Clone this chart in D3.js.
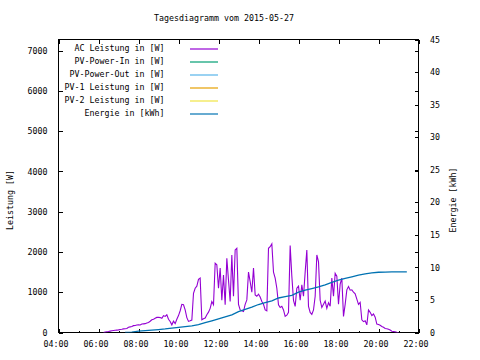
<!DOCTYPE html>
<html>
<head>
<meta charset="utf-8">
<script src="https://cdn.jsdelivr.net/npm/d3@7"></script>
<style>
  html, body { margin: 0; padding: 0; background: #fff; }
  svg text { font-family: "DejaVu Sans Mono", "Liberation Mono", monospace; font-size: 8.3px; fill: #000; }
</style>
</head>
<body>
<svg id="chart" width="480" height="360"></svg>
<script>
// ---------- data ----------
const title = "Tagesdiagramm vom 2015-05-27";
const xTickLabels = ["04:00","06:00","08:00","10:00","12:00","14:00","16:00","18:00","20:00","22:00"];
const yTicks = [0,1000,2000,3000,4000,5000,6000,7000];
const y2Ticks = [0,5,10,15,20,25,30,35,40,45];

const legendLabels = ["AC Leistung in [W]","PV-Power-In in [W]","PV-Power-Out in [W]","PV-1 Leistung in [W]","PV-2 Leistung in [W]","Energie in [kWh]"];
const legendColors = ["#9400d3","#009e73","#56b4e9","#e69f00","#f0e442","#0072b2"];

const acTimes = ["06:15","06:20","06:25","06:30","06:35","06:40","06:45","06:50","06:55","07:00",
"07:05","07:10","07:15","07:20","07:25","07:30","07:35","07:40","07:45","07:50","07:55","08:00",
"08:05","08:10","08:15","08:20","08:25","08:30","08:35","08:40","08:45","08:50","08:55","09:00",
"09:05","09:10","09:15","09:20","09:25","09:30","09:35","09:40","09:45","09:50","09:55","10:00",
"10:05","10:10","10:15","10:20","10:25","10:30","10:35","10:40","10:45","10:50","10:55","11:00",
"11:05","11:10","11:15","11:20","11:25","11:30","11:35","11:40","11:45","11:50","11:55","12:00",
"12:05","12:10","12:15","12:20","12:25","12:30","12:35","12:40","12:45","12:50","12:55","13:00",
"13:05","13:10","13:15","13:20","13:25","13:30","13:35","13:40","13:45","13:50","13:55","14:00",
"14:05","14:10","14:15","14:20","14:25","14:30","14:35","14:40","14:45","14:50","14:55","15:00",
"15:05","15:10","15:15","15:20","15:25","15:30","15:35","15:40","15:45","15:50","15:55","16:00",
"16:05","16:10","16:15","16:20","16:25","16:30","16:35","16:40","16:45","16:50","16:55","17:00",
"17:05","17:10","17:15","17:20","17:25","17:30","17:35","17:40","17:45","17:50","17:55","18:00",
"18:05","18:10","18:15","18:20","18:25","18:30","18:35","18:40","18:45","18:50","18:55","19:00",
"19:05","19:10","19:15","19:20","19:25","19:30","19:35","19:40","19:45","19:50","19:55","20:00",
"20:05","20:10","20:15","20:20","20:25","20:30","20:35","20:40","20:45","20:50","20:55","21:00"];
const acPower = [0,10,20,25,35,45,50,55,60,65,
75,80,90,95,100,130,140,150,170,175,185,190,
185,210,215,220,235,250,280,315,330,355,375,380,
370,355,420,400,440,330,275,190,280,220,330,420,
540,700,690,560,370,275,290,310,975,1100,1150,1320,
1350,315,340,360,440,505,600,770,690,1720,1680,1100,
1600,800,1430,690,1845,1300,770,1925,900,2050,2090,700,
560,540,520,700,810,1500,1265,1000,1600,935,900,950,
880,770,700,560,540,2090,2130,2200,1500,1350,1100,690,
620,650,560,400,430,500,2160,1400,800,650,1100,1150,
800,1185,900,1500,2050,650,500,450,560,900,1925,1760,
800,620,700,780,600,740,650,1350,900,1470,1400,700,
1200,1350,400,700,1060,1140,1050,1060,1000,960,830,700,
750,315,270,290,190,560,500,420,460,380,210,200,
180,150,130,100,95,80,60,30,25,15,5,0];

const energyTimes = ["07:20","07:40","08:00","08:20","08:40","09:00","09:20","09:40","10:00","10:20",
"10:40","11:00","11:20","11:40","12:00","12:20","12:40","13:00","13:20","13:40","14:00","14:20",
"14:40","15:00","15:20","15:40","16:00","16:20","16:40","17:00","17:20","17:40","18:00","18:20",
"18:40","19:00","19:20","19:40","20:00","20:20","20:40","21:00","21:25"];
const energyKWh = [0.0,0.05,0.2,0.28,0.36,0.45,0.55,0.68,0.8,0.9,
1.02,1.2,1.5,1.8,2.1,2.4,2.7,3.2,3.55,3.9,4.3,4.6,
4.85,5.3,5.5,5.7,6.2,6.5,6.75,7.0,7.3,7.7,8.05,8.3,
8.55,8.8,9.0,9.15,9.25,9.28,9.3,9.3,9.3];

// ---------- layout ----------
const L = 58.5, R = 418.5, T = 39.5, B = 332.5;
const parseT = d3.timeParse("%H:%M");
const svg = d3.select("#chart");

const x = d3.scaleTime().domain([parseT(xTickLabels[0]), parseT(xTickLabels[xTickLabels.length-1])]).range([L, R]);
const y = d3.scaleLinear().domain([0, 7278]).range([B, T]);
const y2 = d3.scaleLinear().domain([0, 45]).range([B, T]);

// title
svg.append("text").attr("x", 224).attr("y", 20.5).attr("text-anchor", "middle").text(title);

// axes
function styleAxis(g) {
  g.select(".domain").remove();
  g.selectAll("line").attr("stroke", "#000").attr("shape-rendering", "crispEdges");
  g.selectAll("text").attr("font-family", null).attr("font-size", null);
}
const majorTicks = xTickLabels.map(parseT);

const xAxis = svg.append("g").attr("transform", `translate(0,${B})`)
  .call(d3.axisBottom(x).tickValues(majorTicks).tickFormat(d3.timeFormat("%H:%M")).tickSizeInner(-4).tickSizeOuter(0).tickPadding(8.6));
styleAxis(xAxis);
xAxis.selectAll("text").attr("x", -3);

const xMinor = svg.append("g").attr("transform", `translate(0,${B})`)
  .call(d3.axisBottom(x).ticks(d3.timeHour.every(1)).tickFormat("").tickSizeInner(-2).tickSizeOuter(0));
styleAxis(xMinor);

const xTop = svg.append("g").attr("transform", `translate(0,${T})`)
  .call(d3.axisTop(x).tickValues(majorTicks).tickFormat("").tickSizeInner(-4).tickSizeOuter(0));
styleAxis(xTop);

const yAxis = svg.append("g").attr("transform", `translate(${L},0)`)
  .call(d3.axisLeft(y).tickValues(yTicks).tickFormat(d3.format("d")).tickSizeInner(-4).tickSizeOuter(0).tickPadding(11));
styleAxis(yAxis);

const yMirror = svg.append("g").attr("transform", `translate(${R},0)`)
  .call(d3.axisRight(y).tickValues(yTicks).tickFormat("").tickSizeInner(-4).tickSizeOuter(0));
styleAxis(yMirror);

const y2Axis = svg.append("g").attr("transform", `translate(${R},0)`)
  .call(d3.axisRight(y2).tickValues(y2Ticks).tickFormat(d3.format("d")).tickSizeInner(-4).tickSizeOuter(0).tickPadding(11.5));
styleAxis(y2Axis);

// border
svg.append("rect").attr("x", L).attr("y", T).attr("width", R - L).attr("height", B - T)
  .attr("fill", "none").attr("stroke", "#000").attr("stroke-width", 1).attr("shape-rendering", "crispEdges");

// axis titles
svg.append("text").attr("transform", "translate(13,200) rotate(-90)").attr("text-anchor", "middle").text("Leistung [W]");
svg.append("text").attr("transform", "translate(455.5,200) rotate(-90)").attr("text-anchor", "middle").text("Energie [kWh]");

// clip
svg.append("clipPath").attr("id", "clip").append("rect").attr("x", L).attr("y", T).attr("width", R - L).attr("height", B - T);

// series
const acData = acTimes.map((t, i) => ({ t: parseT(t), v: acPower[i] }));
const enData = energyTimes.map((t, i) => ({ t: parseT(t), v: energyKWh[i] }));

svg.append("path").datum(acData).attr("clip-path", "url(#clip)")
  .attr("fill", "none").attr("stroke", legendColors[0]).attr("stroke-width", 1.1)
  .attr("d", d3.line().x(d => x(d.t)).y(d => y(d.v)));

svg.append("path").datum(enData).attr("clip-path", "url(#clip)")
  .attr("fill", "none").attr("stroke", legendColors[5]).attr("stroke-width", 1.3)
  .attr("d", d3.line().x(d => x(d.t)).y(d => y2(d.v)));

// legend
const lg = svg.append("g");
legendLabels.forEach((lab, i) => {
  const yy = 49 + i * 13;
  lg.append("text").attr("x", 164.5).attr("y", yy + 1.5).attr("text-anchor", "end").text(lab);
  lg.append("line").attr("x1", 190).attr("x2", 218).attr("y1", yy).attr("y2", yy)
    .attr("stroke", legendColors[i]).attr("stroke-width", 1.2);
});
</script>
</body>
</html>
